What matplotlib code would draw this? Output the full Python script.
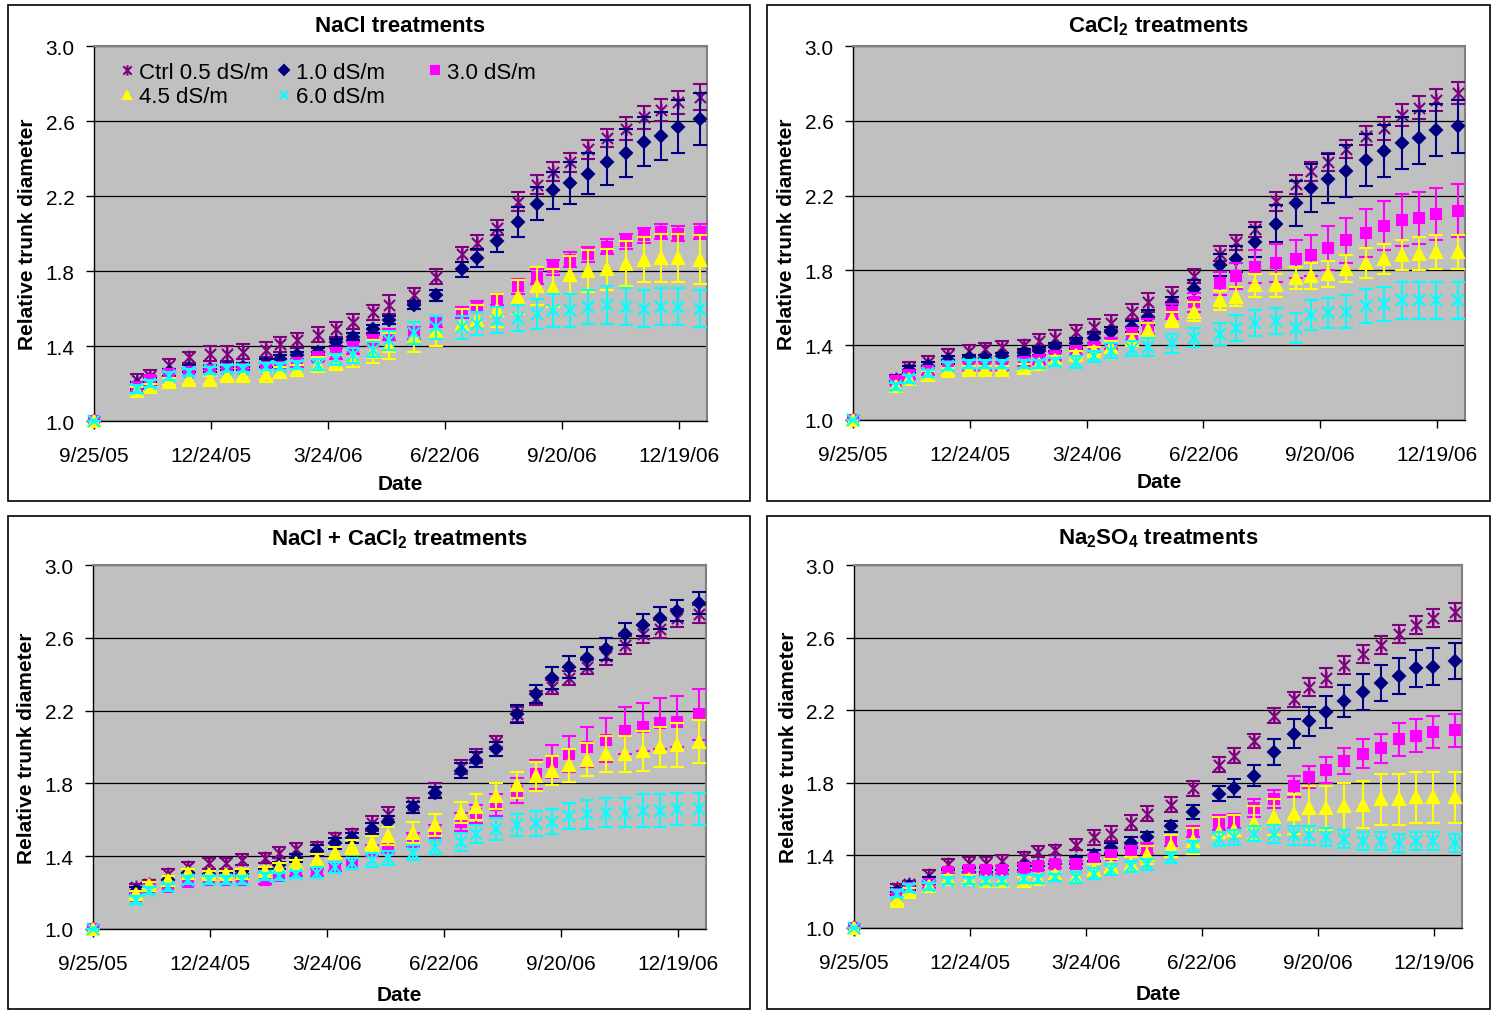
import numpy as np
import matplotlib
matplotlib.use("Agg")
import matplotlib.pyplot as plt
import matplotlib.dates as mdates
from matplotlib.path import Path
from matplotlib.patches import Rectangle
from matplotlib.ticker import FuncFormatter, FixedLocator

plt.rcParams['font.family'] = ['Liberation Sans', 'DejaVu Sans']
plt.rcParams['mathtext.fontset'] = 'custom'
plt.rcParams['mathtext.rm'] = 'Liberation Sans'
plt.rcParams['mathtext.bf'] = 'Liberation Sans:bold'

# measurement dates
dates = ["2005-09-25", "2005-10-28", "2005-11-07", "2005-11-22", "2005-12-07", "2005-12-23",
         "2006-01-05", "2006-01-18", "2006-02-04", "2006-02-15", "2006-02-28", "2006-03-16",
         "2006-03-30", "2006-04-12", "2006-04-28", "2006-05-10", "2006-05-29", "2006-06-15",
         "2006-07-05", "2006-07-17", "2006-08-01", "2006-08-17", "2006-09-01", "2006-09-13",
         "2006-09-26", "2006-10-10", "2006-10-25", "2006-11-08", "2006-11-22", "2006-12-05",
         "2006-12-18", "2007-01-04"]
tick_dates = ["2005-09-25", "2005-12-24", "2006-03-24", "2006-06-22", "2006-09-20", "2006-12-19"]
y_ticks = [1.0, 1.4, 1.8, 2.2, 2.6, 3.0]

labels = ["Ctrl 0.5 dS/m", "1.0 dS/m", "3.0 dS/m", "4.5 dS/m", "6.0 dS/m"]
titles = ["NaCl treatments", r"CaCl$_\mathbf{2}$ treatments",
          r"NaCl + CaCl$_\mathbf{2}$ treatments", r"Na$_\mathbf{2}$SO$_\mathbf{4}$ treatments"]

# NaCl
nacl_ctrl = [1.0, 1.22, 1.24, 1.30, 1.34, 1.36, 1.36, 1.37, 1.38, 1.41, 1.43, 1.46, 1.49, 1.53, 1.58, 1.62, 1.67,
             1.77, 1.89, 1.95, 2.03, 2.17, 2.26, 2.33, 2.38, 2.45, 2.51, 2.56, 2.62, 2.66, 2.70, 2.73]
nacl_10 = [1.0, 1.19, 1.21, 1.26, 1.28, 1.28, 1.29, 1.29, 1.31, 1.33, 1.35, 1.37, 1.42, 1.45, 1.49, 1.54, 1.62,
           1.67, 1.81, 1.87, 1.96, 2.06, 2.16, 2.23, 2.27, 2.32, 2.38, 2.43, 2.49, 2.52, 2.57, 2.61]
nacl_30 = [1.0, 1.18, 1.22, 1.25, 1.26, 1.27, 1.28, 1.28, 1.29, 1.29, 1.31, 1.34, 1.36, 1.39, 1.43, 1.46, 1.47,
           1.53, 1.58, 1.61, 1.65, 1.72, 1.77, 1.82, 1.86, 1.89, 1.93, 1.96, 1.99, 2.01, 2.00, 2.01]
nacl_45 = [1.0, 1.16, 1.18, 1.21, 1.22, 1.22, 1.24, 1.24, 1.24, 1.26, 1.27, 1.30, 1.31, 1.34, 1.37, 1.40, 1.45,
           1.48, 1.52, 1.54, 1.59, 1.66, 1.72, 1.71, 1.78, 1.80, 1.81, 1.84, 1.86, 1.87, 1.87, 1.86]
nacl_60 = [1.0, 1.17, 1.20, 1.24, 1.26, 1.27, 1.28, 1.28, 1.29, 1.29, 1.30, 1.30, 1.33, 1.35, 1.38, 1.43, 1.47,
           1.50, 1.50, 1.52, 1.54, 1.55, 1.57, 1.59, 1.59, 1.61, 1.62, 1.61, 1.60, 1.61, 1.61, 1.60]
nacl_ctrl_err = [0, .03, .03, .03, .03, .04, .04, .04, .04, .04, .04, .04, .04, .04, .04, .05, .04,
                 .04, .04, .04, .04, .05, .05, .05, .05, .05, .05, .06, .06, .06, .06, .07]
nacl_10_err = [0, .02, .02, .02, .02, .02, .02, .02, .02, .02, .02, .02, .02, .02, .02, .02, .02,
               .03, .04, .05, .06, .08, .09, .10, .11, .11, .12, .13, .13, .13, .14, .14]
nacl_30_err = [0, .02, .02, .02, .02, .02, .02, .02, .02, .02, .02, .02, .03, .03, .03, .03, .03,
               .03, .03, .03, .03, .04, .04, .04, .04, .04, .04, .04, .04, .04, .04, .04]
nacl_45_err = [0, .02, .02, .02, .02, .02, .02, .02, .02, .03, .03, .04, .04, .05, .06, .07, .08,
               .08, .08, .08, .09, .09, .10, .10, .10, .11, .11, .12, .12, .13, .13, .13]
nacl_60_err = [0, .02, .02, .02, .02, .02, .02, .02, .02, .02, .02, .03, .03, .04, .04, .05, .06,
               .06, .06, .06, .07, .07, .08, .09, .09, .09, .10, .10, .10, .10, .10, .10]

# CaCl2
cacl_ctrl = [1.0, 1.22, 1.28, 1.31, 1.35, 1.37, 1.38, 1.39, 1.40, 1.42, 1.44, 1.47, 1.50, 1.52, 1.58, 1.63, 1.67,
             1.77, 1.89, 1.95, 2.02, 2.17, 2.26, 2.33, 2.38, 2.45, 2.52, 2.56, 2.63, 2.67, 2.71, 2.75]
cacl_10 = [1.0, 1.21, 1.27, 1.29, 1.32, 1.33, 1.33, 1.34, 1.36, 1.37, 1.39, 1.41, 1.44, 1.47, 1.50, 1.55, 1.62,
           1.70, 1.83, 1.86, 1.95, 2.05, 2.16, 2.24, 2.29, 2.33, 2.39, 2.44, 2.48, 2.51, 2.55, 2.57]
cacl_30 = [1.0, 1.21, 1.24, 1.26, 1.29, 1.29, 1.29, 1.29, 1.31, 1.32, 1.34, 1.37, 1.39, 1.41, 1.46, 1.50, 1.58,
           1.63, 1.73, 1.77, 1.82, 1.84, 1.86, 1.88, 1.92, 1.96, 2.00, 2.04, 2.07, 2.08, 2.10, 2.12]
cacl_45 = [1.0, 1.18, 1.22, 1.24, 1.26, 1.27, 1.27, 1.27, 1.28, 1.30, 1.32, 1.35, 1.37, 1.39, 1.43, 1.48, 1.54,
           1.58, 1.64, 1.66, 1.72, 1.72, 1.76, 1.77, 1.78, 1.81, 1.84, 1.86, 1.88, 1.89, 1.90, 1.90]
cacl_60 = [1.0, 1.18, 1.22, 1.25, 1.29, 1.30, 1.30, 1.30, 1.30, 1.30, 1.31, 1.31, 1.34, 1.37, 1.38, 1.39, 1.41,
           1.44, 1.46, 1.49, 1.52, 1.53, 1.49, 1.56, 1.57, 1.58, 1.61, 1.62, 1.64, 1.64, 1.64, 1.64]
cacl_ctrl_err = [0, .02, .03, .03, .03, .03, .03, .03, .03, .04, .04, .04, .04, .04, .04, .05, .04,
                 .04, .04, .04, .04, .05, .05, .05, .05, .05, .05, .06, .06, .06, .06, .06]
cacl_10_err = [0, .02, .02, .02, .02, .02, .02, .02, .02, .02, .02, .03, .03, .03, .03, .04, .04,
               .05, .06, .07, .08, .10, .12, .13, .13, .14, .14, .14, .14, .14, .14, .14]
cacl_30_err = [0, .02, .02, .02, .02, .02, .02, .02, .02, .02, .02, .02, .02, .03, .03, .04, .04,
               .05, .06, .07, .09, .10, .10, .11, .12, .12, .13, .13, .14, .14, .14, .14]
cacl_45_err = [0, .02, .02, .02, .02, .02, .02, .02, .02, .02, .02, .02, .02, .03, .03, .04, .04,
               .05, .05, .05, .06, .06, .06, .07, .07, .07, .08, .08, .08, .09, .09, .09]
cacl_60_err = [0, .02, .02, .02, .02, .02, .02, .02, .02, .02, .02, .03, .03, .04, .04, .05, .05,
               .05, .06, .07, .07, .07, .08, .08, .08, .09, .09, .09, .10, .10, .10, .10]

# NaCl + CaCl2
mix_ctrl = [1.0, 1.23, 1.25, 1.30, 1.34, 1.36, 1.36, 1.38, 1.39, 1.42, 1.44, 1.45, 1.50, 1.52, 1.58, 1.63, 1.68,
            1.76, 1.89, 1.95, 2.03, 2.18, 2.27, 2.33, 2.38, 2.44, 2.50, 2.56, 2.62, 2.65, 2.71, 2.73]
mix_10 = [1.0, 1.21, 1.23, 1.27, 1.31, 1.30, 1.29, 1.30, 1.31, 1.35, 1.39, 1.43, 1.47, 1.50, 1.55, 1.59, 1.67,
          1.75, 1.87, 1.93, 1.99, 2.18, 2.29, 2.38, 2.44, 2.49, 2.54, 2.62, 2.67, 2.71, 2.75, 2.79]
mix_30 = [1.0, 1.18, 1.23, 1.23, 1.26, 1.27, 1.27, 1.27, 1.27, 1.29, 1.31, 1.31, 1.34, 1.36, 1.43, 1.45, 1.49,
          1.53, 1.59, 1.63, 1.68, 1.76, 1.85, 1.92, 1.96, 2.00, 2.04, 2.09, 2.11, 2.13, 2.14, 2.18]
mix_45 = [1.0, 1.19, 1.24, 1.27, 1.31, 1.30, 1.30, 1.31, 1.32, 1.34, 1.36, 1.38, 1.42, 1.45, 1.47, 1.51, 1.53,
          1.57, 1.64, 1.67, 1.73, 1.79, 1.84, 1.87, 1.90, 1.93, 1.96, 1.96, 1.98, 2.00, 2.01, 2.03]
mix_60 = [1.0, 1.16, 1.21, 1.23, 1.27, 1.27, 1.27, 1.27, 1.29, 1.29, 1.30, 1.31, 1.34, 1.36, 1.38, 1.39, 1.42,
          1.45, 1.48, 1.52, 1.55, 1.57, 1.58, 1.59, 1.62, 1.63, 1.64, 1.64, 1.65, 1.65, 1.66, 1.66]
mix_ctrl_err = [0, .02, .02, .03, .03, .03, .03, .03, .03, .03, .03, .03, .03, .03, .04, .04, .04,
                .04, .04, .04, .03, .04, .04, .04, .04, .04, .05, .05, .05, .05, .05, .05]
mix_10_err = [0, .02, .02, .02, .02, .02, .02, .02, .02, .02, .02, .03, .03, .03, .03, .03, .03,
              .03, .04, .04, .04, .05, .05, .06, .06, .06, .06, .06, .06, .06, .06, .06]
mix_30_err = [0, .02, .02, .02, .02, .02, .02, .02, .02, .02, .02, .02, .02, .03, .03, .03, .04,
              .04, .05, .05, .06, .07, .08, .09, .10, .11, .12, .13, .13, .14, .14, .14]
mix_45_err = [0, .02, .02, .02, .02, .02, .02, .02, .02, .02, .02, .03, .03, .04, .04, .05, .06,
              .06, .06, .07, .07, .07, .08, .08, .09, .09, .10, .10, .11, .11, .12, .12]
mix_60_err = [0, .02, .02, .02, .02, .02, .02, .02, .02, .02, .02, .03, .03, .03, .04, .04, .04,
              .04, .05, .05, .06, .06, .07, .07, .07, .08, .08, .08, .09, .09, .09, .09]

# Na2SO4
naso_ctrl = [1.0, 1.22, 1.24, 1.29, 1.35, 1.36, 1.36, 1.37, 1.39, 1.42, 1.43, 1.46, 1.50, 1.52, 1.58, 1.63, 1.68,
             1.77, 1.90, 1.95, 2.03, 2.17, 2.26, 2.33, 2.38, 2.45, 2.51, 2.56, 2.62, 2.67, 2.71, 2.74]
naso_10 = [1.0, 1.20, 1.23, 1.26, 1.30, 1.31, 1.31, 1.32, 1.34, 1.34, 1.35, 1.37, 1.40, 1.44, 1.47, 1.50, 1.56,
           1.64, 1.74, 1.77, 1.84, 1.97, 2.07, 2.14, 2.19, 2.25, 2.30, 2.35, 2.39, 2.43, 2.44, 2.47]
naso_30 = [1.0, 1.19, 1.22, 1.24, 1.31, 1.32, 1.32, 1.32, 1.33, 1.34, 1.35, 1.35, 1.38, 1.40, 1.42, 1.44, 1.48,
           1.53, 1.58, 1.59, 1.66, 1.71, 1.78, 1.83, 1.87, 1.92, 1.96, 1.99, 2.04, 2.06, 2.08, 2.09]
naso_45 = [1.0, 1.15, 1.20, 1.23, 1.27, 1.27, 1.26, 1.26, 1.26, 1.27, 1.29, 1.28, 1.32, 1.34, 1.35, 1.40, 1.45,
           1.48, 1.53, 1.54, 1.58, 1.61, 1.63, 1.66, 1.66, 1.67, 1.68, 1.71, 1.71, 1.72, 1.72, 1.72]
naso_60 = [1.0, 1.19, 1.22, 1.23, 1.26, 1.26, 1.26, 1.26, 1.27, 1.27, 1.28, 1.28, 1.30, 1.32, 1.34, 1.35, 1.39,
           1.45, 1.49, 1.50, 1.52, 1.52, 1.51, 1.51, 1.50, 1.49, 1.48, 1.48, 1.47, 1.48, 1.48, 1.47]
naso_ctrl_err = [0, .02, .02, .03, .03, .03, .03, .03, .03, .03, .03, .03, .04, .04, .04, .04, .04,
                 .04, .04, .04, .04, .04, .04, .05, .05, .05, .05, .05, .05, .05, .05, .05]
naso_10_err = [0, .02, .02, .02, .02, .02, .02, .02, .02, .02, .02, .02, .03, .03, .03, .03, .03,
               .04, .04, .05, .06, .07, .08, .08, .09, .09, .10, .10, .10, .10, .10, .10]
naso_30_err = [0, .02, .02, .02, .02, .02, .02, .02, .02, .02, .02, .02, .02, .02, .03, .03, .03,
               .03, .04, .04, .05, .05, .06, .06, .07, .07, .08, .08, .09, .09, .09, .09]
naso_45_err = [0, .02, .02, .02, .02, .02, .02, .02, .02, .02, .02, .03, .03, .04, .04, .05, .06,
               .07, .08, .08, .09, .10, .11, .12, .12, .13, .13, .14, .14, .14, .14, .14]
naso_60_err = [0, .02, .02, .02, .02, .02, .02, .02, .02, .02, .02, .03, .03, .03, .03, .03, .03,
               .03, .04, .04, .04, .05, .05, .05, .05, .05, .05, .05, .05, .05, .05, .05]

panels = [
    ([nacl_ctrl, nacl_10, nacl_30, nacl_45, nacl_60],
     [nacl_ctrl_err, nacl_10_err, nacl_30_err, nacl_45_err, nacl_60_err]),
    ([cacl_ctrl, cacl_10, cacl_30, cacl_45, cacl_60],
     [cacl_ctrl_err, cacl_10_err, cacl_30_err, cacl_45_err, cacl_60_err]),
    ([mix_ctrl, mix_10, mix_30, mix_45, mix_60],
     [mix_ctrl_err, mix_10_err, mix_30_err, mix_45_err, mix_60_err]),
    ([naso_ctrl, naso_10, naso_30, naso_45, naso_60],
     [naso_ctrl_err, naso_10_err, naso_30_err, naso_45_err, naso_60_err]),
]

# styles
colors = ['#800080', '#000080', '#FF00FF', '#FFFF00', '#00FFFF']
star = Path([(0, -1), (0, 1), (-0.8, -0.8), (0.8, 0.8), (-0.8, 0.8), (0.8, -0.8)],
            [Path.MOVETO, Path.LINETO, Path.MOVETO, Path.LINETO, Path.MOVETO, Path.LINETO])
markers = [star, 'D', 's', '^', 'x']
msizes = [10, 6.5, 7, 8.5, 8]
filled = [False, True, True, True, False]

W, H = 1494, 1012
# pixel boxes (left, top, right, bottom)
axes_px = [(94, 47, 707, 422), (853, 47, 1465, 421), (93, 566, 706, 930), (854, 566, 1462, 929)]
box_px = [(8, 6, 750, 502), (767, 6, 1490, 502), (8, 517, 750, 1010), (767, 517, 1490, 1010)]

xs = mdates.date2num(np.array(dates, dtype='datetime64[D]'))
xt = mdates.date2num(np.array(tick_dates, dtype='datetime64[D]'))
x_end = mdates.date2num(np.datetime64('2007-01-09T14:00'))


def fmt_date(v, pos):
    d = mdates.num2date(v)
    return f"{d.month}/{d.day}/{d.year % 100:02d}"


fig = plt.figure(figsize=(W / 100, H / 100), dpi=100)

for i, (vals, errs) in enumerate(panels):
    l, t, r, b = axes_px[i]
    ax = fig.add_axes([l / W, 1 - b / H, (r - l) / W, (b - t) / H])
    ax.set_facecolor('#C0C0C0')
    handles = []
    for k in range(5):
        ax.errorbar(xs, vals[k], yerr=errs[k], fmt='none', ecolor=colors[k], elinewidth=1.5,
                    capsize=5, capthick=1.5, zorder=3 + 2 * k, clip_on=False)
        mfc = colors[k] if filled[k] else 'none'
        h, = ax.plot(xs, vals[k], linestyle='none', marker=markers[k], ms=msizes[k], color=colors[k],
                     mfc=mfc, mec=colors[k], mew=1.5, zorder=4 + 2 * k, clip_on=False, label=labels[k])
        handles.append(h)

    ax.set_xlim(xs[0], x_end)
    ax.set_ylim(1.0, 3.0)
    ax.xaxis.set_major_locator(FixedLocator(xt))
    ax.xaxis.set_major_formatter(FuncFormatter(fmt_date))
    ax.set_yticks(y_ticks)
    ax.yaxis.set_major_formatter(FuncFormatter(lambda v, p: f"{v:.1f}"))
    ax.yaxis.grid(True, color='black', lw=0.9)
    ax.set_axisbelow(True)
    ax.tick_params(axis='both', direction='out', length=6, width=1, labelsize=15, color='black')
    ax.tick_params(axis='x', pad=12)
    ax.tick_params(axis='y', pad=8)
    for s in ['top', 'right']:
        ax.spines[s].set_color('#808080')
        ax.spines[s].set_linewidth(1.5)
    for s in ['left', 'bottom']:
        ax.spines[s].set_color('black')
        ax.spines[s].set_linewidth(1)

    top_row = i < 2
    cx = (l + r) / 2
    cy = (t + b) / 2
    fig.text(cx / W, 1 - (t - (21 if top_row else 27)) / H, titles[i], ha='center', va='center',
             fontsize=16, fontweight='bold')
    fig.text(cx / W, 1 - (b + (62 if top_row else 66)) / H, "Date", ha='center', va='center',
             fontsize=15, fontweight='bold')
    fig.text((l - 66) / W, 1 - cy / H, "Relative trunk diameter", ha='center', va='center',
             rotation=90, fontsize=15, fontweight='bold')

    if i == 0:
        leg1 = ax.legend([handles[0], handles[3], handles[1], handles[4]],
                         [labels[0], labels[3], labels[1], labels[4]],
                         ncol=2, loc='upper left', bbox_to_anchor=(0.021, 0.993), frameon=False,
                         fontsize=16, handlelength=0.6, handletextpad=0.26, columnspacing=0.37,
                         labelspacing=0.15, borderaxespad=0.2, markerscale=0.75)
        ax.add_artist(leg1)
        ax.legend([handles[2]], [labels[2]], loc='upper left', bbox_to_anchor=(0.523, 0.993),
                  frameon=False, fontsize=16, handlelength=0.6, handletextpad=0.26,
                  borderaxespad=0.2, markerscale=0.75)

for (l, t, r, b) in box_px:
    fig.patches.append(Rectangle((l / W, 1 - b / H), (r - l) / W, (b - t) / H, transform=fig.transFigure,
                                 fill=False, ec='black', lw=1.2))

fig.savefig("out.png", dpi=100)
